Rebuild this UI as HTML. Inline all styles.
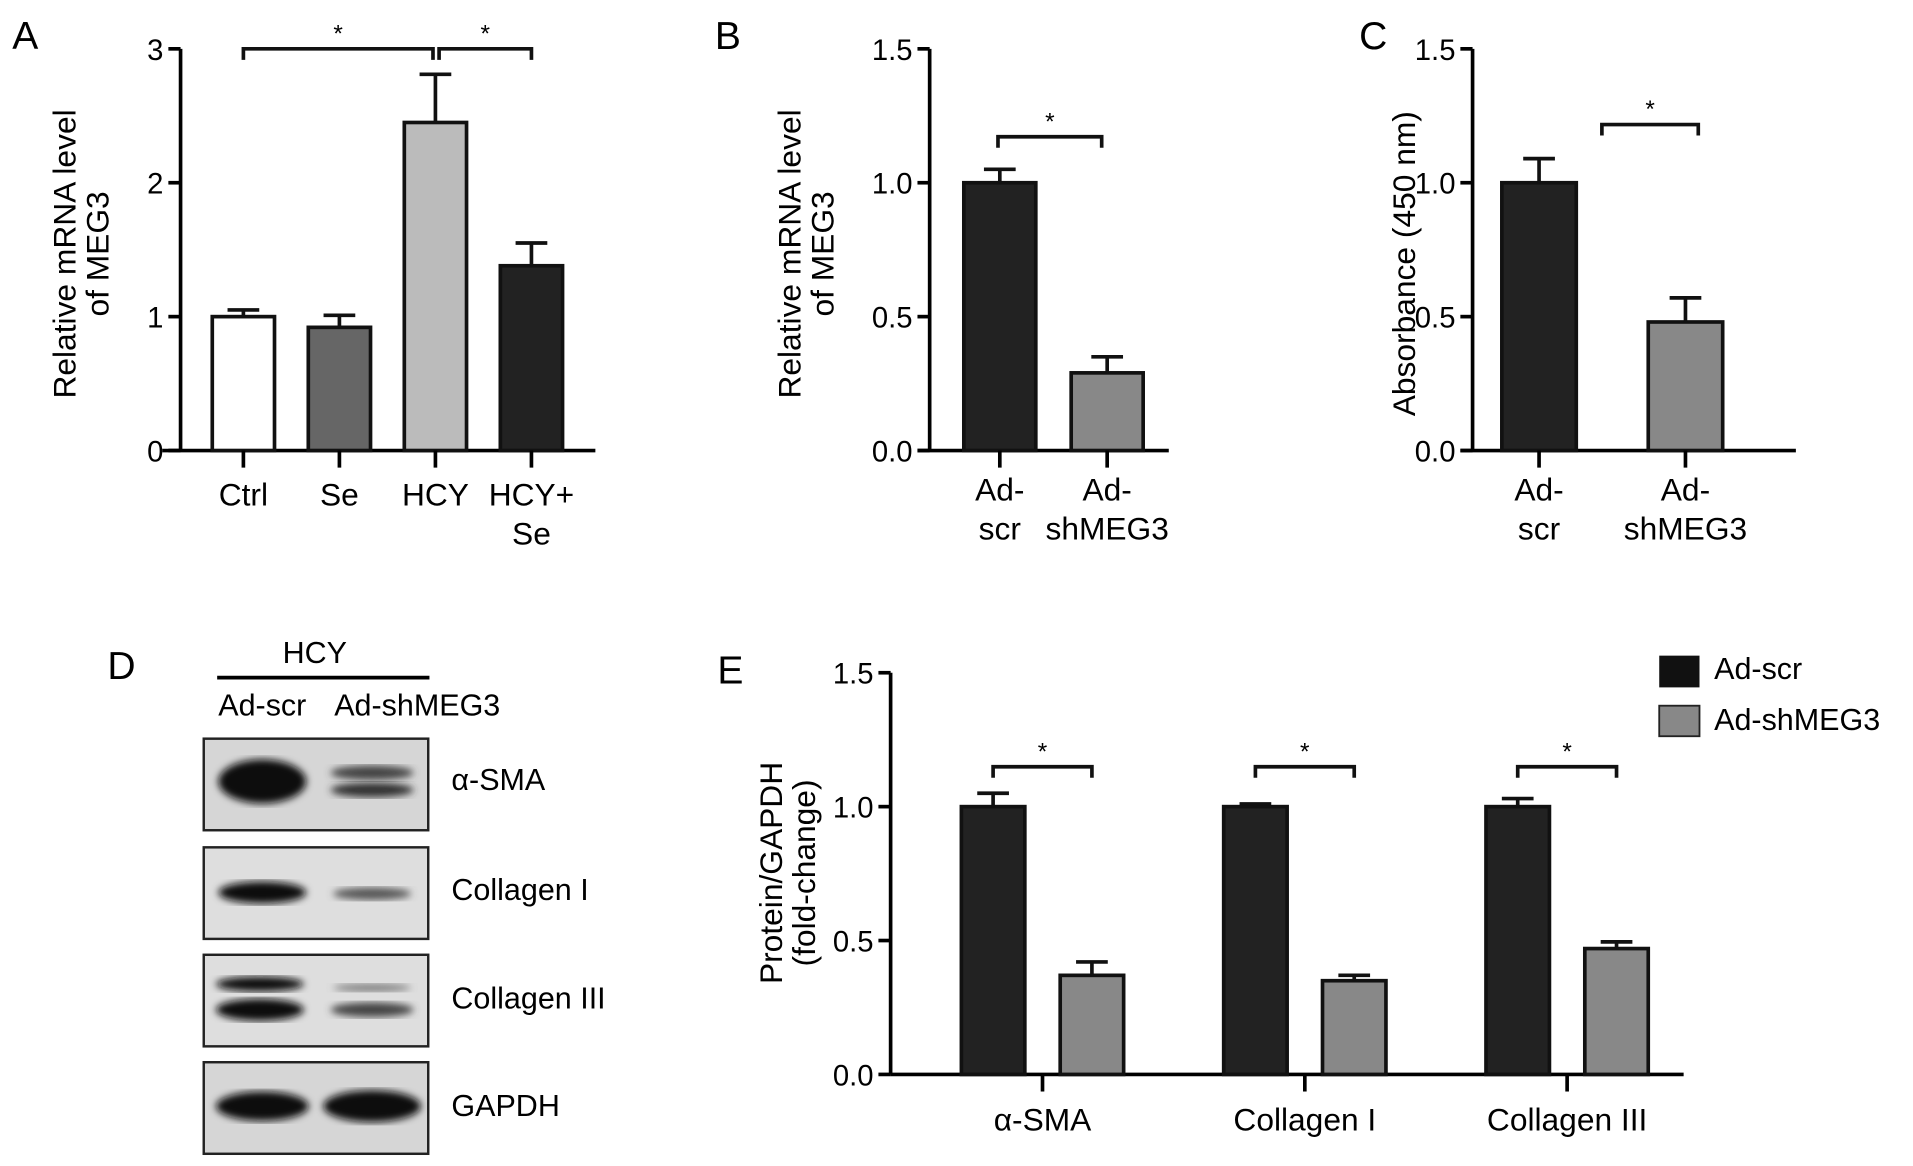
<!DOCTYPE html>
<html><head><meta charset="utf-8">
<style>
html,body{margin:0;padding:0;background:#fff;}
svg{display:block;font-family:"Liberation Sans",Arial,sans-serif;}
</style></head>
<body>
<svg id="fig" width="1913" height="1166" viewBox="0 0 1568 955" preserveAspectRatio="none" xmlns="http://www.w3.org/2000/svg">
<g id="static">
<text x="10" y="40" font-size="32">A</text>
<text x="586" y="40" font-size="32">B</text>
<text x="1114" y="40" font-size="32">C</text>
<text x="88" y="556" font-size="32">D</text>
<text x="588" y="560" font-size="32">E</text>
<text x="258" y="543" font-size="25" text-anchor="middle">HCY</text>
<line x1="178" y1="555" x2="352" y2="555" stroke="#000" stroke-width="3"/>
<text x="215" y="586" font-size="25" text-anchor="middle">Ad-scr</text>
<text x="342" y="586" font-size="25" text-anchor="middle">Ad-shMEG3</text>
<defs>
<filter id="blur"><feGaussianBlur stdDeviation="3"/></filter>
</defs>
<g>
<rect x="167" y="605" width="184" height="75" fill="#d6d6d6" stroke="#222" stroke-width="2"/>
<ellipse cx="215" cy="640" rx="36" ry="18" fill="#111" filter="url(#blur)"/>
<ellipse cx="305" cy="633" rx="34" ry="6" fill="#444" filter="url(#blur)"/>
<ellipse cx="305" cy="647" rx="34" ry="6" fill="#333" filter="url(#blur)"/>
</g>
<text x="370" y="647" font-size="25">α-SMA</text>
<g>
<rect x="167" y="694" width="184" height="75" fill="#dedede" stroke="#222" stroke-width="2"/>
<ellipse cx="215" cy="731" rx="36" ry="9" fill="#111" filter="url(#blur)"/>
<ellipse cx="305" cy="732" rx="32" ry="5" fill="#555" filter="url(#blur)"/>
</g>
<text x="370" y="737" font-size="25">Collagen I</text>
<g>
<rect x="167" y="782" width="184" height="75" fill="#dedede" stroke="#222" stroke-width="2"/>
<ellipse cx="213" cy="806" rx="36" ry="6" fill="#111" filter="url(#blur)"/>
<ellipse cx="213" cy="827" rx="36" ry="9" fill="#111" filter="url(#blur)"/>
<ellipse cx="305" cy="809" rx="32" ry="3" fill="#777" filter="url(#blur)"/>
<ellipse cx="305" cy="827" rx="34" ry="6" fill="#444" filter="url(#blur)"/>
</g>
<text x="370" y="826" font-size="25">Collagen III</text>
<g>
<rect x="167" y="870" width="184" height="75" fill="#d6d6d6" stroke="#222" stroke-width="2"/>
<ellipse cx="215" cy="906" rx="38" ry="12" fill="#111" filter="url(#blur)"/>
<ellipse cx="305" cy="906" rx="40" ry="13" fill="#111" filter="url(#blur)"/>
</g>
<text x="370" y="914" font-size="25">GAPDH</text>
<rect x="1360" y="537" width="33" height="26" fill="#111"/>
<text x="1405" y="556" font-size="25">Ad-scr</text>
<rect x="1360" y="578" width="33" height="25" fill="#888" stroke="#222" stroke-width="1.5"/>
<text x="1405" y="598" font-size="25">Ad-shMEG3</text>
</g>
<g id="charts"></g>
</svg>
<script>
// Panel A
const aCats = [["Ctrl"],["Se"],["HCY"],["HCY+","Se"]];
const aVals = [1.0, 0.92, 2.45, 1.38];
const aErr = [0.05, 0.09, 0.36, 0.17];
const aTicks = [0,1,2,3];
const aTickLabels = ["0","1","2","3"];
// Panel B
const bCats = [["Ad-","scr"],["Ad-","shMEG3"]];
const bVals = [1.0, 0.29];
const bErr = [0.05, 0.06];
const bTicks = [0,0.5,1.0,1.5];
const bTickLabels = ["0.0","0.5","1.0","1.5"];
// Panel C
const cCats = [["Ad-","scr"],["Ad-","shMEG3"]];
const cVals = [1.0, 0.48];
const cErr = [0.09, 0.09];
const cTicks = [0,0.5,1.0,1.5];
const cTickLabels = ["0.0","0.5","1.0","1.5"];
// Panel E
const eCats = ["α-SMA","Collagen I","Collagen III"];
const eScr = [1.0, 1.0, 1.0];
const eScrErr = [0.05, 0.01, 0.03];
const eSh = [0.37, 0.35, 0.47];
const eShErr = [0.05, 0.02, 0.025];
const eTicks = [0,0.5,1.0,1.5];
const eTickLabels = ["0.0","0.5","1.0","1.5"];

const NS="http://www.w3.org/2000/svg";
const root=document.getElementById('charts');
function mk(tag,attrs,parent){const e=document.createElementNS(NS,tag);for(const k in attrs)e.setAttribute(k,attrs[k]);(parent||root).appendChild(e);return e;}
function axisY(g,x,y0,y1,max,ticks,labels,xEnd,xStart){
  const sy=v=>y0-(v/max)*(y0-y1);
  const ax=mk('line',{x1:x,y1:y1,x2:x,y2:y0,stroke:'#000','stroke-width':3},g);
  
  
  const xa=mk('line',{x1:xStart,y1:y0,x2:xEnd,y2:y0,stroke:'#000','stroke-width':3},g);
  
  
  ticks.forEach((t,i)=>{
    const y=sy(t);
    const tl=mk('line',{x1:x-10,y1:y,x2:x,y2:y,stroke:'#000','stroke-width':3},g);
    
    
    const tx=mk('text',{x:x-14,y:y+9,'font-size':24,'text-anchor':'end'},g);
    tx.textContent=labels[i];
    
    
  });
  return sy;
}
function bar(g,x,w,v,err,sy,fill,name){
  const y0=sy(0),y=sy(v);
  const r=mk('rect',{x:x,y:y,width:w,height:y0-y,fill:fill,stroke:'#111','stroke-width':3},g);
  
  
  const ye=sy(v+err),cx=x+w/2;
  const el=mk('path',{d:`M${cx},${y} V${ye} M${cx-13},${ye} H${cx+13}`,stroke:'#111','stroke-width':3,fill:'none'},g);
  
  
}
function bracket(g,x1,x2,y,name){
  const p=mk('path',{d:`M${x1},${y+9} V${y} H${x2} V${y+9}`,stroke:'#111','stroke-width':3,fill:'none'},g);
  
  
  const s=mk('text',{x:(x1+x2)/2,y:y-6,'font-size':20,'text-anchor':'middle'},g);
  s.textContent='*';
  
  
}
function ytitle(g,x,y,lines,name){
  const t=mk('text',{transform:`translate(${x},${y}) rotate(-90)`,'font-size':26,'text-anchor':'middle'},g);
  
  
  lines.forEach((l,i)=>{const ts=mk('tspan',{x:0,dy:i?27:0},t);ts.textContent=l;});
}
function xlabels(g,cx,lines,y,name){
  lines.forEach((l,i)=>{
    const t=mk('text',{x:cx,y:y+i*32,'font-size':26,'text-anchor':'middle'},g);
    t.textContent=l;
    
    
  });
}
function xtick(g,cx,y0,name){
  const t=mk('line',{x1:cx,y1:y0,x2:cx,y2:y0+14,stroke:'#000','stroke-width':3},g);
  
  
}
(function(){
  const g=mk('g',{});
  
  
  const sy=axisY(g,148,369,40,3,aTicks,aTickLabels,488,133);
  const fills=['#fff','#666','#bbb','#222'];
  const x0=174,step=78.7,w=51;
  aVals.forEach((v,i)=>{
    const x=x0+i*step;
    bar(g,x,w,v,aErr[i],sy,fills[i],'bar-'+aCats[i].join('').toLowerCase().replace('+','-'));
    xtick(g,x+w/2,369,'x-tick');
    xlabels(g,x+w/2,aCats[i],414,'x-tick-label');
  });
  bracket(g,x0+w/2,x0+2*step+w/2-2,40,'sig-bracket-ctrl-hcy');
  bracket(g,x0+2*step+w/2+3,x0+3*step+w/2,40,'sig-bracket-hcy-hcyse');
  ytitle(g,62,208,['Relative mRNA level','of MEG3'],'y-axis-title-a');
})();
(function(){
  const g=mk('g',{});
  
  
  const sy=axisY(g,762,369,40,1.5,bTicks,bTickLabels,958,752);
  const xs=[790,878],w=59,fills=['#222','#888'];
  bVals.forEach((v,i)=>{
    bar(g,xs[i],w,v,bErr[i],sy,fills[i],'bar-b-'+i);
    xtick(g,xs[i]+w/2,369,'x-tick');
    xlabels(g,xs[i]+w/2,bCats[i],410,'x-tick-label');
  });
  bracket(g,818,903,112,'sig-bracket-b');
  ytitle(g,656,208,['Relative mRNA level','of MEG3'],'y-axis-title-b');
})();
(function(){
  const g=mk('g',{});
  
  
  const sy=axisY(g,1207,369,40,1.5,cTicks,cTickLabels,1472,1197);
  const xs=[1231,1351],w=61,fills=['#222','#888'];
  cVals.forEach((v,i)=>{
    bar(g,xs[i],w,v,cErr[i],sy,fills[i],'bar-c-'+i);
    xtick(g,xs[i]+w/2,369,'x-tick');
    xlabels(g,xs[i]+w/2,cCats[i],410,'x-tick-label');
  });
  bracket(g,1313,1392,102,'sig-bracket-c');
  ytitle(g,1160,216,['Absorbance (450 nm)'],'y-axis-title-c');
})();
(function(){
  const g=mk('g',{});
  
  
  const sy=axisY(g,730,880,551,1.5,eTicks,eTickLabels,1380,730);
  const w=52,step=215,x0=788;
  eCats.forEach((c,i)=>{
    const xa=x0+i*step,xb=xa+81;
    bar(g,xa,w,eScr[i],eScrErr[i],sy,'#222','bar-ad-scr-'+i);
    bar(g,xb,w,eSh[i],eShErr[i],sy,'#888','bar-ad-shmeg3-'+i);
    const cx=(xa+xb+w)/2;
    xtick(g,cx,880,'x-tick');
    xlabels(g,cx,[c],926,'x-tick-label');
    bracket(g,xa+w/2,xb+w/2,628,'sig-bracket-e-'+i);
  });
  ytitle(g,641,715,['Protein/GAPDH','(fold-change)'],'y-axis-title-e');
})();
</script>
</body></html>
